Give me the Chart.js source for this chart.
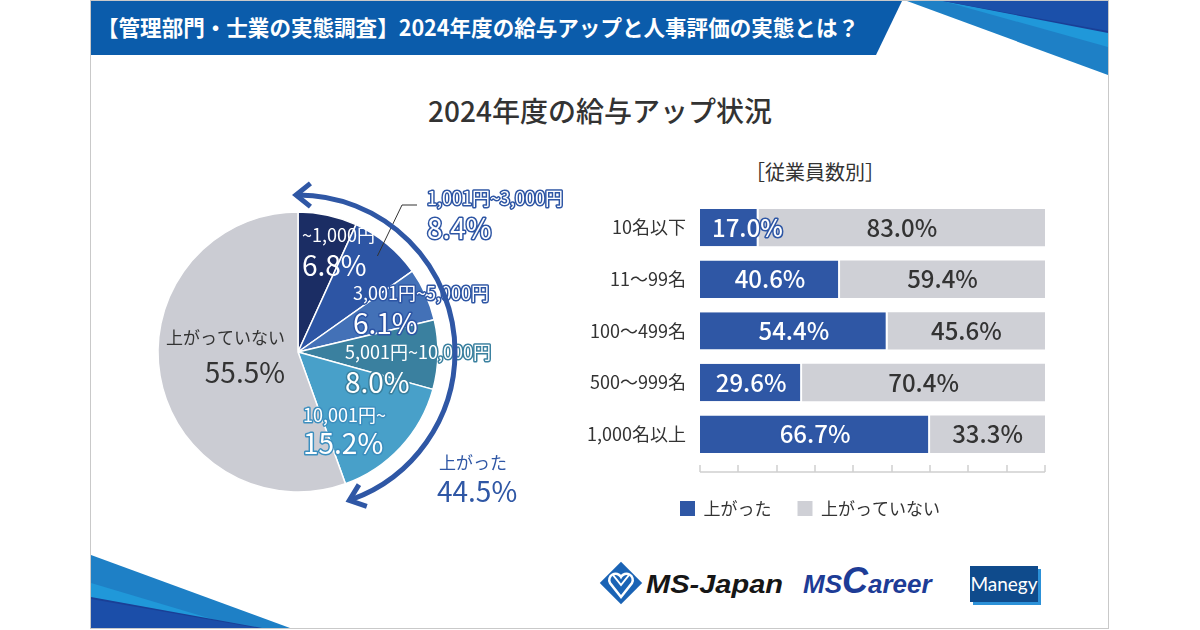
<!DOCTYPE html>
<html lang="ja">
<head>
<meta charset="utf-8">
<script src="https://cdn.jsdelivr.net/npm/chart.js@4.4.1/dist/chart.umd.min.js"></script>
<style>
  html, body { margin: 0; padding: 0; background: #fff; }
  body { width: 1200px; height: 630px; position: relative; overflow: hidden; font-family: "Noto Sans CJK JP", "Noto Sans", sans-serif; color: #333; }
  .abs { position: absolute; }
  #card { left: 90px; top: 0; width: 1017px; height: 627px; border: 1px solid #c9c9c9; }
  #title { left: 0; width: 1200px; top: 90px; text-align: center; font-size: 28px; font-weight: 500; line-height: 40px; }
  #subtitle { left: 700px; width: 230px; top: 158px; text-align: center; font-size: 20px; line-height: 28px; }
  #pie { left: 130px; top: 172px; }
  #bars { left: 575px; top: 177px; }
</style>
</head>
<body>
<div id="card" class="abs"></div>

<svg class="abs" style="left:0;top:0" width="1200" height="630">
  <!-- header band -->
  <polygon points="91,1 902,1 876,55 91,55" fill="#0b5cab"/>
  <text x="97" y="36" font-size="22" font-weight="700" fill="#fff" textLength="762" lengthAdjust="spacingAndGlyphs"
        font-family="Noto Sans CJK JP">【管理部門・士業の実態調査】2024年度の給与アップと人事評価の実態とは？</text>
  <!-- top right stripes -->
  <polygon points="907,1 1108,1 1108,75" fill="#1e80c6"/>
  <polygon points="943,1 1108,1 1108,47" fill="#2098d9"/>
  <polygon points="943,1 1108,1 1108,33" fill="#1a3f96"/>
  <polygon points="943,1 1108,1 1108,31" fill="#1b50aa"/>
  <!-- bottom left stripes -->
  <polygon points="91,555 91,628 290,628" fill="#1e80c6"/>
  <polygon points="91,583 91,628 242,628" fill="#2098d9"/>
  <polygon points="91,597 91,628 262,628" fill="#1a3f96"/>
  <polygon points="91,599 91,628 258,628" fill="#1b4ea9"/>
  <!-- logos -->
  <g transform="translate(621,583)">
    <rect x="-15" y="-15" width="30" height="30" transform="rotate(45)" fill="#1a63b5"/>
    <path d="M0,14 L-11,0 A6,6 0 0 1 0,-6 A6,6 0 0 1 11,0 Z" fill="none" stroke="#fff" stroke-width="2.5"/>
    <path d="M-8,-8 L0,2 L8,-8" fill="none" stroke="#fff" stroke-width="2"/>
  </g>
  <text x="646" y="593" font-size="25" font-weight="700" font-style="italic" fill="#161616"
        font-family="Liberation Sans" textLength="137" lengthAdjust="spacingAndGlyphs">MS-Japan</text>
  <text x="803" y="593" font-weight="700" font-style="italic" fill="#1d3c96" font-family="Liberation Sans">
    <tspan font-size="26">MS</tspan><tspan font-size="36">C</tspan><tspan font-size="26">areer</tspan>
  </text>
  <rect x="973" y="569" width="68" height="36" fill="#2c91d8"/>
  <rect x="970" y="566" width="68" height="36" fill="#0f4b8c"/>
  <text x="1004" y="591" font-size="19" fill="#fff" text-anchor="middle" font-family="Lato">Manegy</text>
</svg>

<div id="title" class="abs">2024年度の給与アップ状況</div>
<div id="subtitle" class="abs">［従業員数別］</div>

<canvas id="pie" class="abs" width="450" height="360"></canvas>
<canvas id="bars" class="abs" width="480" height="350"></canvas>

<script>
const JP = '"Noto Sans CJK JP", "Noto Sans", sans-serif'

// pie: salary raise amount
const pieLabels = ['~1,000円', '1,001円~3,000円', '3,001円~5,000円', '5,001円~10,000円', '10,001円~', '上がっていない']
const pieValues = [6.8, 8.4, 6.1, 8.0, 15.2, 55.5]
const pieColors = ['#1b2d64', '#2d55a4', '#4371b7', '#3a809f', '#48a0c9', '#cbccd3']
const raisedLabel = '上がった'

// bars: by number of employees
const sizeLabels = ['10名以下', '11～99名', '100～499名', '500～999名', '1,000名以上']
const raisedValues = [17.0, 40.6, 54.4, 29.6, 66.7]
const notRaisedValues = [83.0, 59.4, 45.6, 70.4, 33.3]
const seriesNames = ['上がった', '上がっていない']

const BLUE = '#2f57a5'

function outlined(ctx, text, x, y, fill, stroke, lw) {
  if (stroke) {
    ctx.lineWidth = lw
    ctx.strokeStyle = stroke
    ctx.lineJoin = 'round'
    ctx.strokeText(text, x, y)
  }
  ctx.fillStyle = fill
  ctx.fillText(text, x, y)
}

// label layout relative to the pie centre
const pieText = [
  { dx: 4, y1: -117, y2: -87, align: 'left', fill: '#fff', stroke: null },
  { dx: 129, y1: -154, y2: -124, align: 'left', fill: '#fff', stroke: pieColors[1] },
  { dx: 55, y1: -59, y2: -29, align: 'left', fill: '#fff', stroke: pieColors[1] },
  { dx: 47, y1: 0, y2: 30, align: 'left', fill: '#fff', stroke: pieColors[3] },
  { dx: 5, y1: 63, y2: 91, align: 'left', fill: '#fff', stroke: '#3d8fbf' },
  { dx: -13, y1: -14, y2: 20, align: 'right', fill: '#333', stroke: null },
]

const pieDecor = {
  id: 'pieDecor',
  afterDatasetsDraw(chart) {
    const ctx = chart.ctx
    const arcs = chart.getDatasetMeta(0).data
    const cx = arcs[0].x, cy = arcs[0].y, R = arcs[0].outerRadius
    ctx.save()
    ctx.textBaseline = 'middle'

    // leader line for the small outside label
    const a = (arcs[1].startAngle + arcs[1].endAngle) / 2
    const lx = cx + pieText[1].dx, ly = cy + pieText[1].y1
    ctx.beginPath()
    ctx.moveTo(cx + Math.cos(a) * R * 0.89, cy + Math.sin(a) * R * 0.89)
    ctx.lineTo(lx - 25, ly + 7)
    ctx.lineTo(lx - 10, ly + 7)
    ctx.strokeStyle = '#333'
    ctx.lineWidth = 1
    ctx.stroke()

    pieLabels.forEach((lab, i) => {
      const p = pieText[i]
      ctx.textAlign = p.align
      ctx.font = (i === 5 ? '17px ' : '18px ') + JP
      outlined(ctx, lab, cx + p.dx, cy + p.y1, p.fill, p.stroke, 3)
      ctx.font = '28px ' + JP
      outlined(ctx, pieValues[i].toFixed(1) + '%', cx + p.dx, cy + p.y2, p.fill, p.stroke, 3)
    })

    // arrow around the raised part
    const last = pieValues.length - 2
    const a0 = arcs[0].startAngle, a1 = arcs[last].endAngle
    const RA = R + 17
    ctx.strokeStyle = BLUE
    ctx.lineWidth = 5
    ctx.lineCap = 'butt'
    ctx.beginPath()
    ctx.arc(cx, cy, RA, a0, a1)
    ctx.stroke()
    const head = (ang, dir) => {
      const tx = cx + Math.cos(ang) * RA, ty = cy + Math.sin(ang) * RA
      const dx = -Math.sin(ang) * dir, dy = Math.cos(ang) * dir
      const back = Math.atan2(-dy, -dx)
      ctx.beginPath()
      ctx.moveTo(tx + Math.cos(back + 0.75) * 17, ty + Math.sin(back + 0.75) * 17)
      ctx.lineTo(tx + dx * 2, ty + dy * 2)
      ctx.lineTo(tx + Math.cos(back - 0.75) * 17, ty + Math.sin(back - 0.75) * 17)
      ctx.lineJoin = 'miter'
      ctx.stroke()
    }
    head(a0, -1)
    head(a1, 1)

    const raised = pieValues.slice(0, last + 1).reduce((s, v) => s + v, 0)
    ctx.textAlign = 'left'
    ctx.fillStyle = BLUE
    ctx.font = '17px ' + JP
    ctx.fillText(raisedLabel, cx + 141, cy + 111)
    ctx.font = '28px ' + JP
    ctx.fillText(raised.toFixed(1) + '%', cx + 139, cy + 139)
    ctx.restore()
  }
}

new Chart(document.getElementById('pie'), {
  type: 'pie',
  data: {
    labels: pieLabels,
    datasets: [{
      data: pieValues,
      backgroundColor: pieColors,
      borderColor: '#fff',
      borderWidth: 1.5,
      radius: 140
    }]
  },
  options: {
    responsive: false,
    animation: false,
    layout: { padding: { right: 114 } },
    plugins: { legend: { display: false }, tooltip: { enabled: false } }
  },
  plugins: [pieDecor]
})

const barDecor = {
  id: 'barDecor',
  afterDatasetsDraw(chart) {
    const ctx = chart.ctx
    const xs = chart.scales.x
    const area = chart.chartArea
    ctx.save()
    // axis line with ticks pointing up
    const y = area.bottom + 12
    ctx.strokeStyle = '#d0d0d0'
    ctx.lineWidth = 1.5
    ctx.beginPath()
    ctx.moveTo(xs.getPixelForValue(0), y)
    ctx.lineTo(xs.getPixelForValue(100), y)
    for (let i = 0; i <= 9; i++) {
      const x = Math.round(xs.getPixelForValue(i * 100 / 9))
      ctx.moveTo(x, y)
      ctx.lineTo(x, y - 7)
    }
    ctx.stroke()

    ctx.textBaseline = 'middle'
    ctx.textAlign = 'center'
    ctx.font = '500 24px ' + JP
    chart.data.datasets.forEach((ds, i) => {
      chart.getDatasetMeta(i).data.forEach((bar, j) => {
        const txt = ds.data[j].toFixed(1) + '%'
        const left = Math.min(bar.x, bar.base), right = Math.max(bar.x, bar.base)
        const w = ctx.measureText(txt).width
        let x = (left + right) / 2
        if (x - w / 2 < left + 12) x = left + 12 + w / 2
        if (i === 0) outlined(ctx, txt, x, bar.y, '#fff', BLUE, 3)
        else outlined(ctx, txt, x, bar.y, '#333', null, 0)
      })
    })
    ctx.restore()
  }
}

new Chart(document.getElementById('bars'), {
  type: 'bar',
  data: {
    labels: sizeLabels,
    datasets: [
      { label: seriesNames[0], data: raisedValues, backgroundColor: BLUE, borderColor: '#fff',
        borderWidth: { right: 2, left: 0, top: 0, bottom: 0 }, borderSkipped: false,
        barPercentage: 0.725, categoryPercentage: 1 },
      { label: seriesNames[1], data: notRaisedValues, backgroundColor: '#cfd0d6',
        barPercentage: 0.725, categoryPercentage: 1 }
    ]
  },
  options: {
    indexAxis: 'y',
    responsive: false,
    animation: false,
    layout: { padding: { top: 7, right: 10 } },
    scales: {
      x: {
        stacked: true, min: 0, max: 100,
        grid: { display: false }, border: { display: false }, ticks: { display: false },
        afterFit: (s) => { s.height = 14 }
      },
      y: {
        stacked: true,
        grid: { display: false, drawTicks: false }, border: { display: false },
        ticks: { color: '#333', font: { size: 18, family: JP }, padding: 14 },
        afterFit: (s) => { s.width = 125 }
      }
    },
    plugins: {
      tooltip: { enabled: false },
      legend: {
        position: 'bottom',
        labels: {
          boxWidth: 15, boxHeight: 15, padding: 26, color: '#333',
          font: { size: 17, family: JP },
          generateLabels: (chart) => Chart.defaults.plugins.legend.labels.generateLabels(chart)
            .map(l => Object.assign(l, { lineWidth: 0, strokeStyle: 'rgba(0,0,0,0)' }))
        }
      }
    }
  },
  plugins: [barDecor]
})
</script>
</body>
</html>
